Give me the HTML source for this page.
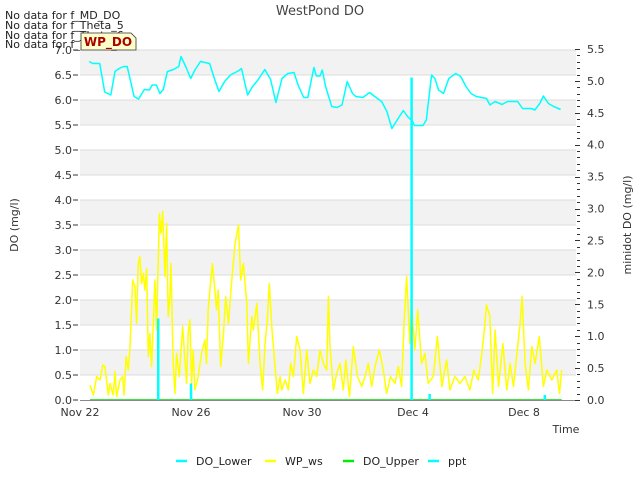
<!DOCTYPE html>
<html><head><meta charset="utf-8"><style>
body{margin:0;background:#fff;font-family:"Liberation Sans","DejaVu Sans",sans-serif;}
svg text{font-family:"DejaVu Sans","Liberation Sans",sans-serif;}
</style></head><body>
<svg id="chart" width="640" height="480" viewBox="0 0 640 480" xmlns="http://www.w3.org/2000/svg">
<g id="bands"></g>
<g id="series"></g>
<g id="axes"></g>
<text x="320" y="15" text-anchor="middle" font-size="13" fill="#444">WestPond DO</text>
<text transform="translate(18,225) rotate(-90)" text-anchor="middle" font-size="11" fill="#333">DO (mg/l)</text>
<text transform="translate(631,225) rotate(-90)" text-anchor="middle" font-size="11" fill="#333">minidot DO (mg/l)</text>
<text x="566" y="433" text-anchor="middle" font-size="11" fill="#333">Time</text>
<g font-size="11" fill="#222">
<text x="5" y="19">No data for f_MD_DO</text>
<text x="5" y="29">No data for f_Theta_5</text>
<text x="5" y="39">No data for f_Theta_6</text>
<text x="5" y="48">No data for f_Theta_7</text>
</g>
<g>
<path d="M81,33 L131,33 L136,38 L136,50 L81,50 Z" fill="#ffffcc" stroke="#333" stroke-width="0.8"/>
<text x="108" y="46" text-anchor="middle" font-size="12" font-weight="bold" fill="#aa0000">WP_DO</text>
</g>
<g id="legend" font-size="11" fill="#222"></g>
</svg>
<script>
const doLowerDays=[0.33,0.46,0.71,0.89,1.11,1.26,1.41,1.57,1.70,1.95,2.11,2.32,2.50,2.60,2.75,2.88,3.00,3.15,3.37,3.56,3.64,3.81,3.99,4.14,4.34,4.67,4.86,5.01,5.21,5.42,5.73,5.82,6.04,6.22,6.41,6.66,6.87,7.06,7.28,7.49,7.71,7.86,8.06,8.21,8.43,8.52,8.65,8.73,8.85,9.07,9.26,9.44,9.63,9.82,9.94,10.19,10.44,10.62,10.87,11.06,11.24,11.43,11.65,11.80,11.99,12.05,12.36,12.48,12.67,12.79,12.92,13.10,13.29,13.54,13.72,13.91,14.09,14.28,14.65,14.77,14.96,15.21,15.40,15.77,15.95,16.26,16.39,16.57,16.70,16.88,17.07,17.32];
const doLowerVals=[6.77,6.73,6.73,6.16,6.1,6.57,6.63,6.67,6.67,6.07,6.02,6.21,6.2,6.3,6.3,6.13,6.21,6.57,6.61,6.67,6.87,6.67,6.43,6.6,6.77,6.73,6.4,6.17,6.37,6.5,6.59,6.63,6.1,6.27,6.4,6.61,6.41,5.95,6.43,6.53,6.55,6.3,6.05,6.05,6.65,6.48,6.48,6.6,6.27,5.87,5.85,5.9,6.37,6.13,6.07,6.05,6.15,6.07,5.97,5.77,5.43,5.6,5.79,5.67,5.57,5.49,5.49,5.6,6.5,6.43,6.2,6.13,6.43,6.53,6.47,6.27,6.13,6.07,6.03,5.9,5.97,5.91,5.97,5.97,5.83,5.83,5.8,5.93,6.08,5.93,5.87,5.81];
const wsDays=[0.36,0.48,0.6,0.72,0.82,0.9,1.02,1.08,1.2,1.26,1.32,1.44,1.54,1.59,1.66,1.74,1.8,1.9,1.98,2.04,2.1,2.16,2.22,2.28,2.34,2.4,2.46,2.52,2.58,2.64,2.7,2.76,2.86,2.92,2.98,3.06,3.12,3.18,3.24,3.28,3.36,3.42,3.48,3.58,3.64,3.7,3.76,3.84,3.9,3.96,4.02,4.08,4.14,4.26,4.38,4.5,4.56,4.62,4.68,4.77,4.86,4.92,4.98,5.07,5.17,5.25,5.35,5.47,5.59,5.71,5.79,5.89,6.01,6.07,6.19,6.25,6.37,6.49,6.58,6.67,6.75,6.82,6.92,7.03,7.11,7.21,7.27,7.39,7.51,7.59,7.69,7.81,7.93,8.05,8.17,8.29,8.41,8.53,8.65,8.77,8.89,8.95,9.01,9.13,9.25,9.37,9.49,9.58,9.71,9.85,10.0,10.15,10.27,10.39,10.51,10.63,10.79,10.93,11.05,11.19,11.35,11.47,11.59,11.68,11.77,11.89,11.95,12.07,12.17,12.31,12.43,12.55,12.73,12.88,13.04,13.21,13.33,13.51,13.69,13.87,14.05,14.19,14.35,14.47,14.56,14.65,14.77,14.87,14.96,15.08,15.24,15.38,15.5,15.62,15.76,15.86,15.93,16.04,16.16,16.28,16.4,16.55,16.7,16.82,17.0,17.18,17.28,17.36];
const wsVals=[0.3,0.1,0.47,0.4,0.7,0.67,0.1,0.33,0.1,0.57,0.07,0.4,0.47,0.1,0.87,0.6,1.0,2.4,2.27,1.53,2.73,2.87,2.33,2.53,2.2,2.63,0.87,1.33,0.67,1.53,2.4,1.4,3.73,3.33,3.77,2.47,3.53,1.67,2.07,2.73,0.73,0.13,0.93,0.47,1.0,1.47,1.0,0.33,1.33,1.6,0.33,1.0,0.2,0.47,0.93,1.2,0.73,1.8,2.2,2.73,2.2,1.8,2.2,0.67,1.33,2.07,1.53,2.4,3.13,3.5,2.4,2.73,1.93,0.73,1.67,1.4,1.93,0.73,0.2,1.13,1.6,2.33,1.4,0.67,0.13,0.47,0.2,0.4,0.2,0.73,0.47,1.27,1.0,0.13,1.0,0.33,0.6,0.47,1.0,0.73,0.6,2.07,1.07,0.2,0.53,0.73,0.2,0.8,0.07,1.07,0.47,0.27,0.47,0.73,0.27,0.67,1.0,0.6,0.13,0.47,0.33,0.67,0.27,1.53,2.47,1.13,1.87,1.0,1.8,0.73,0.93,0.33,0.47,1.27,0.27,0.8,0.2,0.47,0.33,0.47,0.2,0.6,0.4,0.87,1.33,1.9,1.67,0.13,1.4,0.27,1.13,0.2,0.73,0.27,1.0,1.53,2.07,0.73,0.2,1.07,0.73,1.27,0.27,0.6,0.4,0.6,0.13,0.6];
const pptDays=[2.82,4.0,11.95,12.6,16.75];
const pptVals=[1.63,0.33,6.45,0.12,0.1];
const doUpperDays=[0.36,17.36];
const doUpperVals=[0,0];
const xTickLabels=["Nov 22","Nov 26","Nov 30","Dec 4","Dec 8"];
const xTickDays=[0,4,8,12,16];
const yTickLabels=["0.0","0.5","1.0","1.5","2.0","2.5","3.0","3.5","4.0","4.5","5.0","5.5","6.0","6.5","7.0"];
const y2TickLabels=["0.0","0.5","1.0","1.5","2.0","2.5","3.0","3.5","4.0","4.5","5.0","5.5"];

const NS="http://www.w3.org/2000/svg";
const L=80,R=576,T=50,B=400;
const xS=d=>L+d*27.75;
const yS=v=>B-(v/7)*(B-T);
const y2S=v=>B-v*(B-49)/5.5;
function mk(tag,attrs,parent){const e=document.createElementNS(NS,tag);for(const k in attrs)e.setAttribute(k,attrs[k]);parent.appendChild(e);return e;}
const bands=document.getElementById('bands'),series=document.getElementById('series'),axes=document.getElementById('axes'),legend=document.getElementById('legend');
for(let i=0;i<14;i++){
  const r=mk('rect',{x:L,y:yS((i+1)*0.5),width:R-L,height:yS(0)-yS(0.5),fill:(i%2===1)?'#f2f2f2':'#ffffff'},bands);
  
  
}
for(let i=1;i<=14;i++){
  const g=mk('line',{x1:L,x2:R,y1:yS(i*0.5),y2:yS(i*0.5),stroke:'#dcdcdc','stroke-width':1},bands);
  
  
}
function poly(days,vals,color,w,name){
  const p=mk('polyline',{points:days.map((d,i)=>xS(d).toFixed(1)+','+yS(vals[i]).toFixed(1)).join(' '),fill:'none',stroke:color,'stroke-width':w,'stroke-linejoin':'round'},series);
  
  
}
poly(doUpperDays,doUpperVals,'#00dd00',1.5,'do-upper-line');
poly(wsDays,wsVals,'#ffff00',1.5,'wp-ws-line');
pptDays.forEach((d,i)=>{
  const l=mk('line',{x1:xS(d),x2:xS(d),y1:yS(0),y2:yS(pptVals[i]),stroke:'#00ffff','stroke-width':2.5},series);
  
  
});
poly(doLowerDays,doLowerVals,'#00ffff',1.5,'do-lower-line');
// axes
const ax=mk('line',{x1:L,x2:R,y1:B+0.5,y2:B+0.5,stroke:'#888','stroke-width':1},axes);


xTickDays.forEach((d,i)=>{
  const t=mk('text',{x:xS(d),y:416,'text-anchor':'middle','font-size':11,fill:'#333'},axes);
  t.textContent=xTickLabels[i];
  
  
});
yTickLabels.forEach((s,i)=>{
  const t=mk('text',{x:72,y:yS(i*0.5)+4,'text-anchor':'end','font-size':11,fill:'#333'},axes);
  t.textContent=s;
  
  
  const k=mk('line',{x1:73,x2:78,y1:yS(i*0.5),y2:yS(i*0.5),stroke:'#333'},axes);
  
  
});
y2TickLabels.forEach((s,i)=>{
  const t=mk('text',{x:587,y:y2S(i*0.5)+4,'font-size':11,fill:'#333'},axes);
  t.textContent=s;
  
  
});
for(let i=0;i<=55;i++){
  const maj=i%5===0;
  const k=mk('line',{x1:maj?575:577,x2:580,y1:Math.round(y2S(i*0.1))+0.5,y2:Math.round(y2S(i*0.1))+0.5,stroke:'#333'},axes);
  
  
}
const legendNames=["DO_Lower","WP_ws","DO_Upper","ppt"];
const legendColors=["#00ffff","#ffff00","#00ee00","#00ffff"];
const legendSw=[176,265,343,428];
legendNames.forEach((n,i)=>{
  const g=mk('g',{},legend);
  
  
  mk('line',{x1:legendSw[i],x2:legendSw[i]+11,y1:461,y2:461,stroke:legendColors[i],'stroke-width':2.5},g);
  const t=mk('text',{x:legendSw[i]+20,y:465},g);
  t.textContent=n;
});
</script>
</body></html>
